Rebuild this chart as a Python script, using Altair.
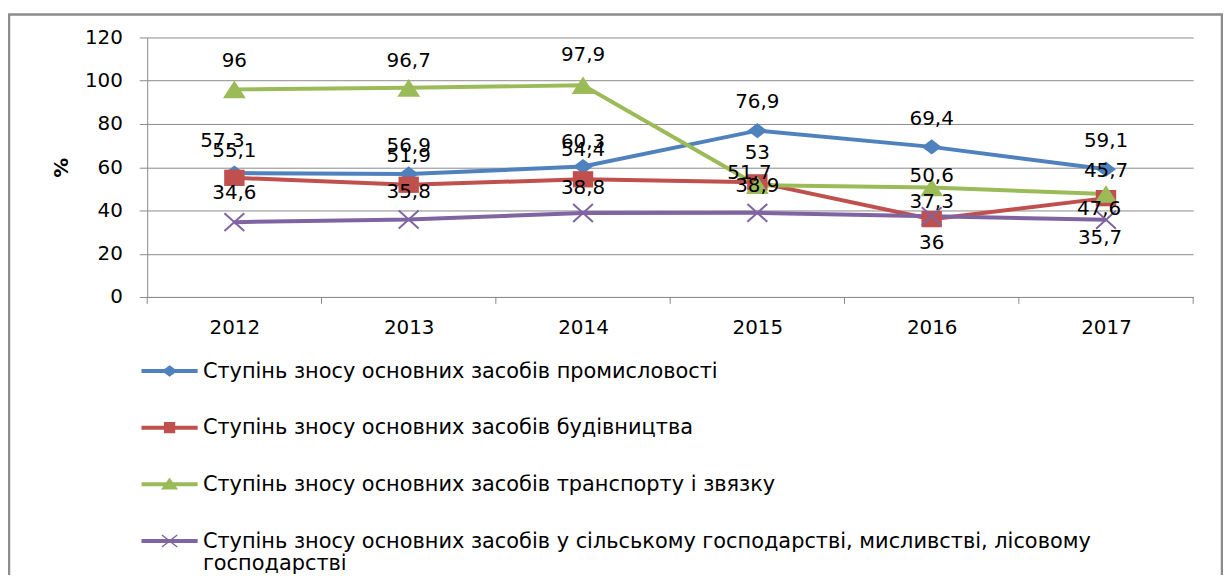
import json
import altair as alt
import pandas as pd

# ---------------- data ----------------
years = [2012, 2013, 2014, 2015, 2016, 2017]
series_names = [
    "Ступінь зносу основних засобів промисловості",
    "Ступінь зносу основних засобів будівництва",
    "Ступінь зносу основних засобів транспорту і звязку",
    "Ступінь зносу основних засобів у сільському господарстві, мисливстві, лісовому господарстві",
]
industry = [57.3, 56.9, 60.3, 76.9, 69.4, 59.1]
construction = [55.1, 51.9, 54.4, 53.0, 36.0, 45.7]
transport = [96.0, 96.7, 97.9, 51.7, 50.6, 47.6]
agriculture = [34.6, 35.8, 38.8, 38.9, 37.3, 35.7]
y_ticks = [0, 20, 40, 60, 80, 100, 120]
y_title = "%"

# ---------------- style ----------------
FONT = "DejaVu Sans"
GRID = "#8a8a8a"
BORDER = "#8c8c8c"
colors = ["#4F81BD", "#C0504D", "#9BBB59", "#8064A2"]
W, H = 1052, 261
Y_MAX = 120
# data-label offsets in pixels (as placed in the reference)
label_dy = [
    [-32, -28, -25, -29, -28, -28],
    [-27, -29, -29, -29, 24, -27],
    [-28, -27, -30, -12, -12, 15],
    [-29, -28, -25, -27, -14, 18],
]
label_dx = [
    [-12, 0, 0, 0, 0, 0],
    [0, 0, 0, 0, 0, 0],
    [0, 0, 0, -8, 0, -7],
    [0, 0, 0, 0, 0, -6],
]
marker_paths = [
    "M0,-0.76L1,0L0,0.76L-1,0Z",
    "M-1,-0.8H1V0.8H-1Z",
    "M0,-0.77L1,0.77H-1Z",
    "M-1,-0.9L1,0.9M-1,0.9L1,-0.9",
]
marker_sizes = [400, 420, 529, 400]
LEG_SHIFT = 0.38  # legend symbols drawn lower to line up with top-baseline labels
legend_line = "M-1,{a}H1V{b}H-1Z".format(a=round(-0.045 + LEG_SHIFT, 3), b=round(0.045 + LEG_SHIFT, 3))
legend_markers = [
    "M0,{0}L0.24,{1}L0,{2}L-0.24,{1}Z",
    "M-0.18,{3}H0.18V{4}H-0.18Z",
    "M0,{5}L0.26,{6}H-0.26Z",
    "M-0.28,{7}L0.28,{8}M-0.28,{8}L0.28,{7}",
]
_ys = [-0.18, 0, 0.18, -0.18, 0.18, -0.2, 0.16, -0.22, 0.22]
_ys = [round(v + LEG_SHIFT, 3) for v in _ys]
legend_paths = [legend_line + " " + m.format(*_ys) for m in legend_markers]

values = [industry, construction, transport, agriculture]
rows = []
for si, name in enumerate(series_names):
    for yi, yr in enumerate(years):
        v = values[si][yi]
        rows.append({
            "series": name,
            "year": yr,
            "value": v,
            "label": f"{v:g}".replace(".", ","),
            "lx": yr + label_dx[si][yi] * (len(years) / W),
            "ly": v - label_dy[si][yi] * (Y_MAX / H),
        })
df = pd.DataFrame(rows)
ticks_df = pd.DataFrame({"year": [y - 0.5 for y in years] + [years[-1] + 0.5]})

x_scale = alt.Scale(domain=[years[0] - 0.5, years[-1] + 0.5], nice=False, zero=False)
x_axis = alt.Axis(values=years, format="d", ticks=False, grid=False, domainColor=GRID,
                  domainWidth=1, labelFont=FONT, labelFontSize=20, labelColor="#000",
                  labelPadding=21, labelFlush=False, title=None)
y_scale = alt.Scale(domain=[0, Y_MAX], nice=False, zero=True)
y_axis = alt.Axis(values=y_ticks, tickSize=8, tickColor=GRID, grid=True, gridColor=GRID,
                  gridWidth=1, domainColor=GRID, domainWidth=1, labelFont=FONT,
                  labelFontSize=20, labelColor="#000", labelPadding=17, title=y_title,
                  titleFont=FONT, titleFontSize=20, titleFontWeight="bold",
                  titleColor="#000", titlePadding=13)

long_name = series_names[3]
split_at = long_name.rfind(" ")
label_expr = "datum.label == " + json.dumps(long_name, ensure_ascii=False) + " ? " + \
    json.dumps([long_name[:split_at], long_name[split_at + 1:]], ensure_ascii=False) + \
    " : datum.label"

legend = alt.Legend(
    title=None, orient="none", legendX=-6, legendY=296.5, direction="vertical",
    symbolSize=3025, symbolStrokeWidth=1.5, symbolOpacity=1,
    labelFont=FONT, labelFontSize=21, labelColor="#000",
    labelLimit=1150, labelOffset=5, rowPadding=7, padding=0, labelBaseline="top",
    labelExpr=label_expr,
)
color_scale = alt.Scale(domain=series_names, range=colors)


def X(field):
    return alt.X(f"{field}:Q", scale=x_scale, axis=x_axis)


def Y(field):
    return alt.Y(f"{field}:Q", scale=y_scale, axis=y_axis)


base = alt.Chart(df)

# legend layer first: its marks sit far outside the drawing, only its legend is seen
legend_layer = base.mark_point(filled=True, opacity=1, size=3025, strokeWidth=1.5).encode(
    x=alt.value(-5000), y=alt.value(-5000),
    color=alt.Color("series:N", scale=color_scale, legend=legend),
    stroke=alt.Stroke("series:N", scale=color_scale, legend=legend),
    shape=alt.Shape("series:N", scale=alt.Scale(domain=series_names, range=legend_paths), legend=legend),
)

lines = base.mark_line(strokeWidth=4).encode(
    x=X("year"), y=Y("value"),
    color=alt.Color("series:N", scale=color_scale, legend=legend),
    order="year:Q",
)

marker_layers = []
for i, name in enumerate(series_names):
    filled = i < 3
    marker_layers.append(
        base.transform_filter(alt.FieldEqualPredicate(field="series", equal=name))
        .mark_point(filled=filled, opacity=1, shape=marker_paths[i], size=marker_sizes[i],
                    strokeWidth=0 if filled else 2, color=colors[i])
        .encode(x=X("year"), y=Y("value"))
    )

labels = base.mark_text(font=FONT, fontSize=20, color="#000", align="center",
                        baseline="middle").encode(x=X("lx"), y=Y("ly"), text="label:N")

xticks = alt.Chart(ticks_df).mark_rule(color=GRID, strokeWidth=1).encode(
    x=X("year"), y=alt.value(H), y2=alt.value(H + 7))

border = alt.Chart(alt.Data(values=[{"b": 1}])).mark_rect(
    fillOpacity=0, stroke=BORDER, strokeWidth=2.5
).encode(x=alt.value(-139), x2=alt.value(1081), y=alt.value(-23), y2=alt.value(700))

chart = alt.layer(legend_layer, xticks, lines, *marker_layers, labels, border).properties(
    width=W, height=H,
    padding={"left": 140, "top": 28, "right": 30, "bottom": 278},
    autosize=alt.AutoSizeParams(type="none"),
    background="white",
).configure_view(strokeWidth=0)

chart.save("out.html", embed_options={"renderer": "svg", "actions": False})
